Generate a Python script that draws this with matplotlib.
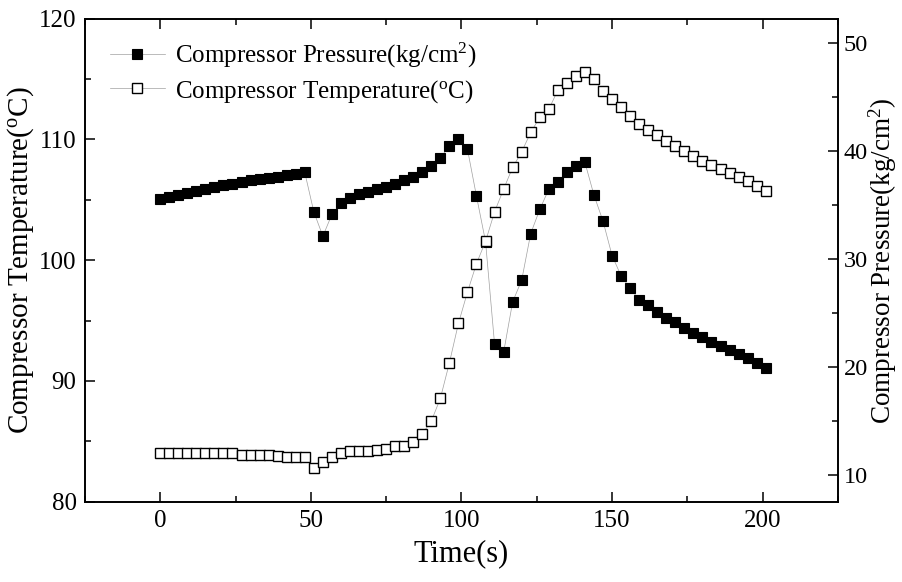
import matplotlib
matplotlib.use("Agg")
from matplotlib import pyplot as plt
from matplotlib.ticker import MultipleLocator

plt.rcParams['font.family'] = ['Liberation Serif', 'DejaVu Serif']
plt.rcParams['mathtext.fontset'] = 'custom'
plt.rcParams['mathtext.rm'] = 'Liberation Serif'
plt.rcParams['mathtext.it'] = 'Liberation Serif:italic'

# time axis, one sample every 3 s
time = list(range(0, 202, 3))

# compressor pressure (kg/cm2), right axis, filled squares
pressure = [35.58, 35.74, 35.93, 36.11, 36.30, 36.48, 36.67, 36.83, 36.98,
            37.13, 37.29, 37.41, 37.53, 37.63, 37.76, 37.85, 38.03,
            34.38, 32.12, 34.14, 35.16, 35.62, 36.00, 36.23, 36.51, 36.64,
            36.95, 37.32, 37.63, 38.09, 38.62, 39.39, 40.47, 41.12, 40.19,
            35.83, 31.63, 22.11, 21.34, 26.03, 28.04, 32.37, 34.60, 36.48,
            37.16, 38.03, 38.65, 38.96,
            35.93, 33.52, 30.33, 28.44, 27.30, 26.22, 25.70, 25.05, 24.49,
            24.12, 23.65, 23.15, 22.73, 22.32, 21.92, 21.58, 21.24, 20.81,
            20.40, 19.94]

# compressor temperature (C), left axis, open squares
temperature = [84.0, 84.0, 84.0, 84.0, 84.0, 84.0, 84.0, 84.0, 84.0,
               83.88, 83.88, 83.88, 83.88, 83.77, 83.71, 83.71, 83.71,
               82.83, 83.30, 83.74, 84.04, 84.16, 84.21, 84.21, 84.29, 84.37,
               84.57, 84.65, 84.98, 85.62, 86.67, 88.55, 91.49, 94.76, 97.35,
               99.72, 101.55, 104.0, 105.88, 107.68, 108.97, 110.58, 111.82,
               112.48, 114.08, 114.63, 115.26, 115.6,
               114.96, 114.0, 113.31, 112.65, 111.95, 111.24, 110.77, 110.35,
               109.88, 109.44, 109.05, 108.61, 108.22, 107.89, 107.56, 107.18,
               106.85, 106.52, 106.13, 105.69]

fig = plt.figure(figsize=(9.03, 5.82), dpi=100)
ax = fig.add_axes([0.094, 0.138, 0.834, 0.830])
ax2 = ax.twinx()

p_line, = ax2.plot(time, pressure, '-', color='#a0a0a0', linewidth=0.5,
                   marker='s', markersize=7.5, markerfacecolor='black',
                   markeredgecolor='black', markeredgewidth=0.8)
t_line, = ax.plot(time, temperature, '-', color='#a0a0a0', linewidth=0.5,
                  marker='s', markersize=7.5, markerfacecolor='white',
                  markeredgecolor='black', markeredgewidth=1.0)

# temperature squares drawn above the pressure squares
ax.set_zorder(ax2.get_zorder() + 1)
ax.patch.set_visible(False)

ax.set_xlim(-25, 225)
ax.set_ylim(80, 120)
ax2.set_ylim(7.5, 52.3)

ax.xaxis.set_major_locator(MultipleLocator(50))
ax.xaxis.set_minor_locator(MultipleLocator(25))
ax.yaxis.set_major_locator(MultipleLocator(10))
ax.yaxis.set_minor_locator(MultipleLocator(5))
ax2.yaxis.set_major_locator(MultipleLocator(10))
ax2.yaxis.set_minor_locator(MultipleLocator(5))

ax.tick_params(which='both', direction='in', top=True, right=False, width=1.1,
               labelsize=18, pad=6)
ax.tick_params(which='major', length=7)
ax.tick_params(which='minor', length=4)
ax2.tick_params(which='both', direction='in', width=1.1, labelsize=17.5, pad=4)
ax2.tick_params(which='major', length=7)
ax2.tick_params(which='minor', length=4)

for a in (ax, ax2):
    for s in a.spines.values():
        s.set_linewidth(1.2)

ax.set_xlabel('Time(s)', fontsize=22, labelpad=5)
ax.set_ylabel(r'Compressor Temperature($^{\mathrm{o}}$C)', fontsize=21)
ax.yaxis.set_label_coords(-0.065, 0.5)
ax2.set_ylabel(r'Compressor Pressure(kg/cm$^{\mathrm{2}}$)', fontsize=19.5)
ax2.yaxis.set_label_coords(1.0385, 0.5)

ax.legend([p_line, t_line],
          [r'Compressor Pressure(kg/cm$^{\mathrm{2}}$)',
           r'Compressor Temperature($^{\mathrm{o}}$C)'],
          loc='upper left', bbox_to_anchor=(0.003, 1.0), frameon=False,
          fontsize=18, handlelength=2.2, handletextpad=0.4, labelspacing=0.3)

fig.savefig('out.png', dpi=100)
